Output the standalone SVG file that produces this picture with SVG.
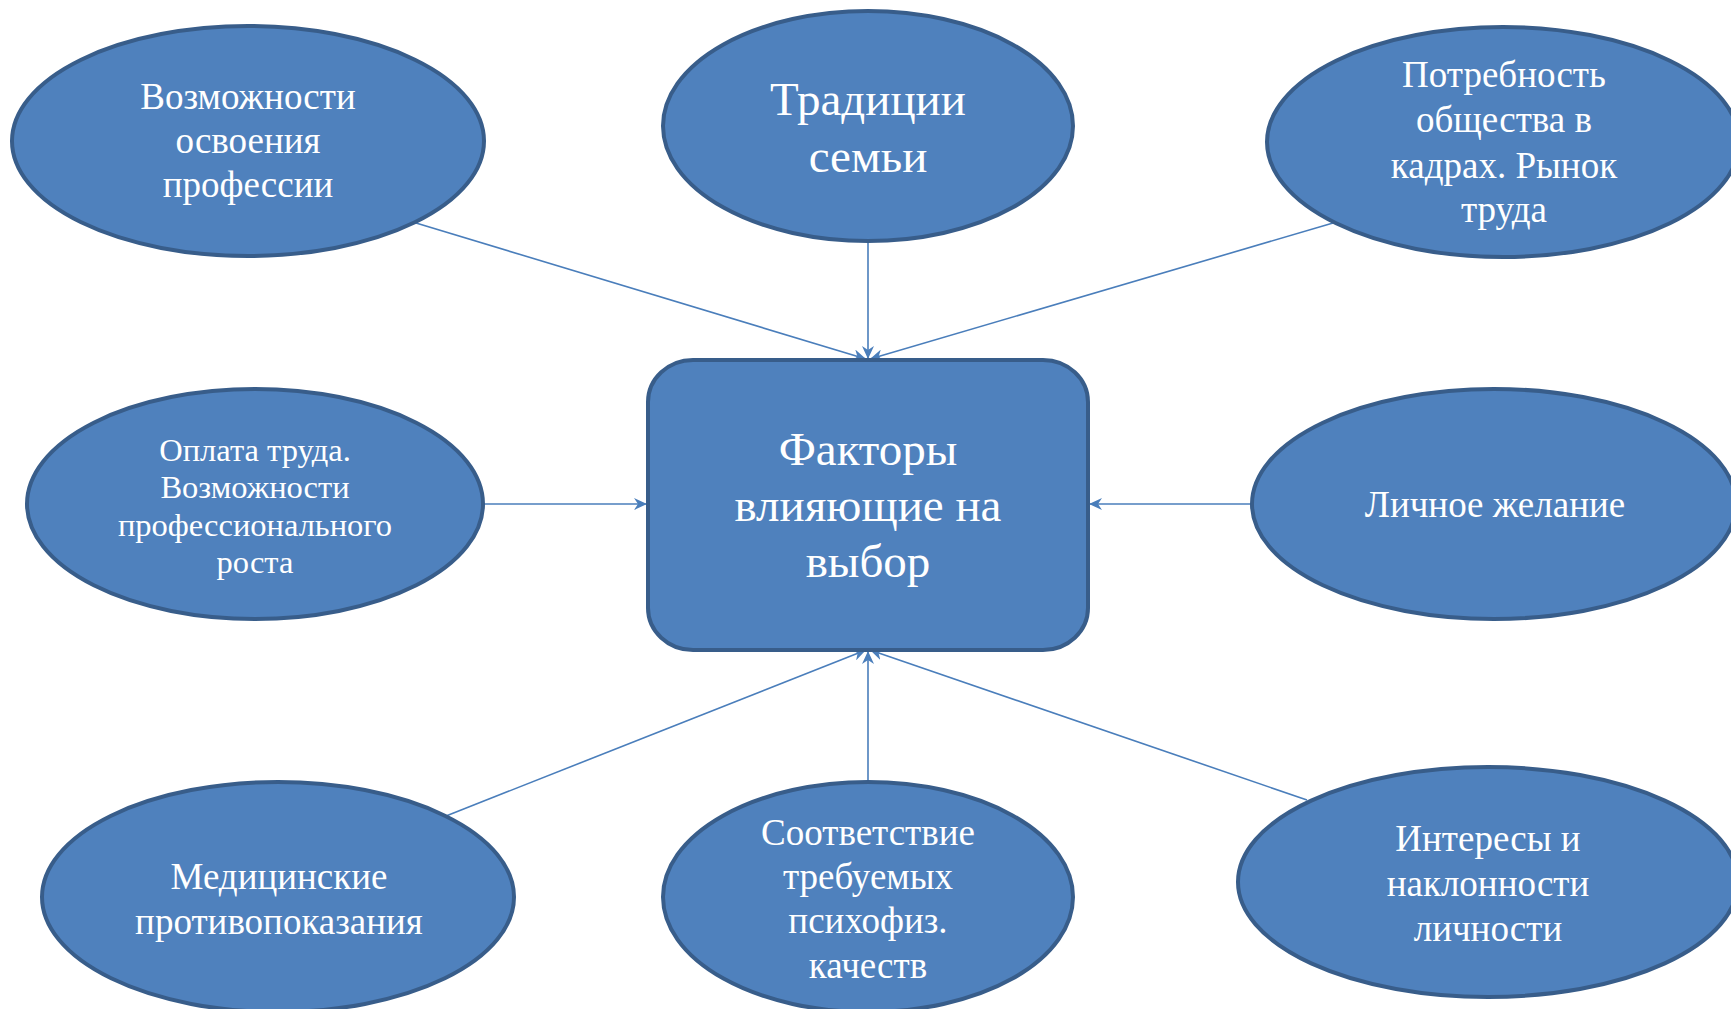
<svg xmlns="http://www.w3.org/2000/svg" width="1731" height="1009" viewBox="0 0 1731 1009">
<style>
.node{fill:#4F81BD;stroke:#385D8A;stroke-width:4}
.t{font-family:"Liberation Serif","Times New Roman",serif;fill:#FFFFFF;text-anchor:middle}
.s36{font-size:37px}
.s32{font-size:32.5px}
.s46{font-size:47px}
.c{stroke:#4A7EBB;stroke-width:1.6;fill:none;marker-end:url(#arr)}
</style>
<defs>
<marker id="arr" markerWidth="14" markerHeight="12" refX="13" refY="6" orient="auto" markerUnits="userSpaceOnUse">
<path d="M0,0 L13,6 L0,12 L4,6 Z" fill="#4A7EBB"/>
</marker>
</defs>
<rect width="1731" height="1009" fill="#FFFFFF"/>
<g id="connectors">
<line class="c" x1="416" y1="223" x2="866" y2="359"/>
<line class="c" x1="868" y1="242" x2="868" y2="359"/>
<line class="c" x1="1333" y1="223" x2="870" y2="359"/>
<line class="c" x1="484" y1="504" x2="647" y2="504"/>
<line class="c" x1="1252" y1="504" x2="1089" y2="504"/>
<line class="c" x1="446" y1="816" x2="866" y2="650"/>
<line class="c" x1="868" y1="782" x2="868" y2="651"/>
<line class="c" x1="1307" y1="800" x2="870" y2="650"/>
</g>
<g id="center">
<rect class="node" x="648" y="360" width="440" height="290" rx="45" ry="42"/>
<text class="t s46"><tspan x="868" y="465">Факторы</tspan><tspan x="868" y="521">влияющие на</tspan><tspan x="868" y="577">выбор</tspan></text>
</g>
<g id="n-vozmozhnosti">
<ellipse class="node" cx="248" cy="141" rx="236" ry="115"/>
<text class="t s36"><tspan x="248" y="109">Возможности</tspan><tspan x="248" y="153">освоения</tspan><tspan x="248" y="197">профессии</tspan></text>
</g>
<g id="n-traditsii">
<ellipse class="node" cx="868" cy="126" rx="205" ry="115"/>
<text class="t s46"><tspan x="868" y="115">Традиции</tspan><tspan x="868" y="172">семьи</tspan></text>
</g>
<g id="n-potrebnost">
<ellipse class="node" cx="1503" cy="142" rx="236" ry="115"/>
<text class="t s36"><tspan x="1504" y="87">Потребность</tspan><tspan x="1504" y="132">общества в</tspan><tspan x="1504" y="178">кадрах. Рынок</tspan><tspan x="1504" y="222">труда</tspan></text>
</g>
<g id="n-oplata">
<ellipse class="node" cx="255" cy="504" rx="228" ry="115"/>
<text class="t s32"><tspan x="255" y="461">Оплата труда.</tspan><tspan x="255" y="498">Возможности</tspan><tspan x="255" y="536">профессионального</tspan><tspan x="255" y="573">роста</tspan></text>
</g>
<g id="n-lichnoe">
<ellipse class="node" cx="1494" cy="504" rx="242" ry="115"/>
<text class="t s36" x="1495" y="517">Личное желание</text>
</g>
<g id="n-meditsinskie">
<ellipse class="node" cx="278" cy="897" rx="236" ry="115"/>
<text class="t s36"><tspan x="279" y="889">Медицинские</tspan><tspan x="279" y="934">противопоказания</tspan></text>
</g>
<g id="n-sootvetstvie">
<ellipse class="node" cx="868" cy="897" rx="205" ry="115"/>
<text class="t s36"><tspan x="868" y="845">Соответствие</tspan><tspan x="868" y="889">требуемых</tspan><tspan x="868" y="933">психофиз.</tspan><tspan x="868" y="978">качеств</tspan></text>
</g>
<g id="n-interesy">
<ellipse class="node" cx="1488" cy="882" rx="250" ry="115"/>
<text class="t s36"><tspan x="1488" y="851">Интересы и</tspan><tspan x="1488" y="896">наклонности</tspan><tspan x="1488" y="941">личности</tspan></text>
</g>
</svg>
